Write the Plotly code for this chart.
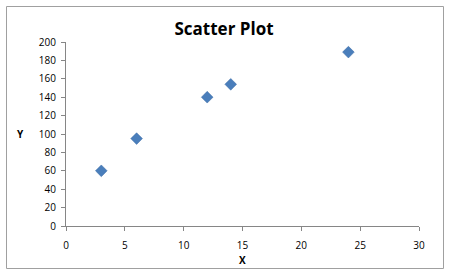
import plotly.graph_objects as go

x_vals = [3, 6, 12, 14, 24]
y_vals = [60, 95, 140, 154, 189]
x_ticks = [0, 5, 10, 15, 20, 25, 30]
y_ticks = [0, 20, 40, 60, 80, 100, 120, 140, 160, 180, 200]

W, H = 450, 276
L, R, T, B = 66, 31, 42, 50
pw, ph = W - L - R, H - T - B

def px(xp):
    return (xp - L) / pw

def py(yp):
    return (H - B - yp) / ph

fig = go.Figure()
fig.add_trace(go.Scatter(
    x=x_vals, y=y_vals, mode="markers",
    marker=dict(symbol="diamond", size=9, color="#4A7EBB",
                line=dict(width=0.5, color="#3A6BA5")),
    showlegend=False))

axis_common = dict(showgrid=False, zeroline=False, showline=True,
                   linecolor="#868686", linewidth=1, ticks="outside",
                   ticklen=4, tickcolor="#868686",
                   tickfont=dict(family="Open Sans, Lato, sans-serif", size=10, color="#000000"))

fig.update_xaxes(range=[0, 30], tickvals=x_ticks, ticklabelstandoff=6, **axis_common)
fig.update_yaxes(range=[0, 200], tickvals=y_ticks, ticklabelstandoff=3, **axis_common)

fig.update_layout(
    width=W, height=H,
    margin=dict(l=L, r=R, t=T, b=B),
    paper_bgcolor="white", plot_bgcolor="white",
    title=dict(text="<b>Scatter Plot</b>", x=224 / W, xanchor="center",
               y=1 - 29 / H, yanchor="middle",
               font=dict(family="Open Sans, Lato, sans-serif", size=17, color="#000000")),
)

fig.add_shape(type="rect", xref="paper", yref="paper",
              x0=px(6.5), x1=px(443.5), y0=py(268.5), y1=py(6.5),
              line=dict(color="#A0A0A0", width=1), fillcolor="rgba(0,0,0,0)")

fig.add_annotation(text="<b>Y</b>", xref="paper", yref="paper",
                   x=px(20), y=py(134), showarrow=False,
                   xanchor="center", yanchor="middle",
                   font=dict(family="Open Sans, Lato, sans-serif", size=10, color="#000000"))
fig.add_annotation(text="<b>X</b>", xref="paper", yref="paper",
                   x=px(242), y=py(260), showarrow=False,
                   xanchor="center", yanchor="middle",
                   font=dict(family="Open Sans, Lato, sans-serif", size=10, color="#000000"))

fig.write_html("out.html")
